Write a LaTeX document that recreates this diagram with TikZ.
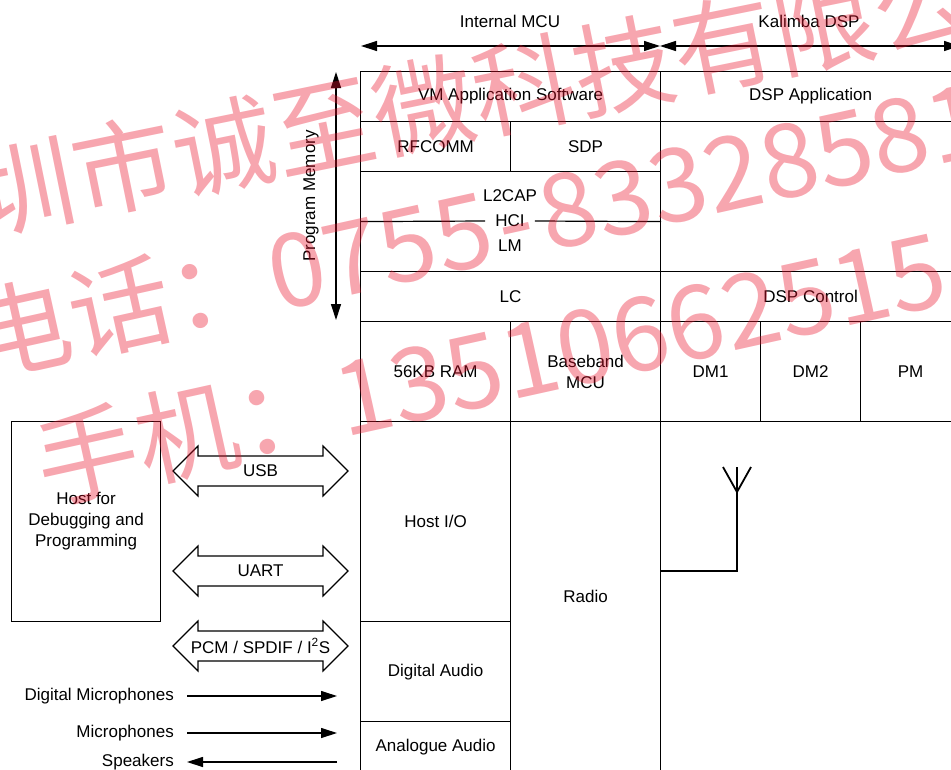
\documentclass[tikz,border=0pt]{standalone}
\usepackage{fontspec}
\setmainfont{Liberation Sans}
\newfontfamily\wmfont{Noto Sans CJK SC}
\usetikzlibrary{arrows.meta}
\newcommand\fs{\fontsize{17}{21}\selectfont}
\newcommand\wmdash{\makebox[0.5em]{-}}
\definecolor{wmred}{RGB}{235,20,45}
\tikzset{
  cell/.style={draw, line width=1.2pt, inner sep=0pt, anchor=north west, align=center, font=\fs},
  txt/.style={inner sep=0pt, align=center, font=\fs},
  arr/.style={line width=1.2pt, -{Triangle[length=16pt,width=10pt]}},
  darr/.style={line width=1.2pt, {Triangle[length=16pt,width=10pt]}-{Triangle[length=16pt,width=10pt]}},
  wm/.style={font=\wmfont\fontsize{102}{102}\selectfont, text=wmred, text opacity=0.38, inner sep=0pt, anchor=west},
  antline/.style={line width=1.8pt},
  bigdbl/.pic={\draw[line width=1.1pt, line join=miter] (-87.5,0) -- (-62.5,-25) -- (-62.5,-15) -- (62.5,-15) -- (62.5,-25) -- (87.5,0) -- (62.5,25) -- (62.5,15) -- (-62.5,15) -- (-62.5,25) -- cycle;}
}
\begin{document}
\begin{tikzpicture}[x=1pt,y=-1pt]
\useasboundingbox (0,0) rectangle (951,769);
\clip (0,0) rectangle (951,769);
% top labels and span arrows
\node[txt] (imcu) at (510,21) {Internal MCU};
\node[txt] (kal) at (809,21) {Kalimba DSP};
\coordinate (mcuL) at (361,46);
\coordinate (mid) at (660,46);
\coordinate (dspR) at (960,46);
\draw[darr] (mcuL) -- (mid);
\draw[darr] (mid) -- (dspR);
% program memory
\coordinate (pmTop) at (336,72);
\coordinate (pmBot) at (336,320);
\draw[darr] (pmTop) -- (pmBot);
\node[txt, rotate=90] (progmem) at (311,196) {Program Memory};
% grid
\node[cell, minimum width=300, minimum height=50] (vm) at (360,71) {VM Application Software};
\node[cell, minimum width=300, minimum height=50] (dspapp) at (660,71) {DSP Application};
\node[cell, minimum width=150, minimum height=50] (rfcomm) at (360,121) {RFCOMM};
\node[cell, minimum width=150, minimum height=50] (sdp) at (510,121) {SDP};
\node[cell, minimum width=300, minimum height=150] (dspfree) at (660,121) {};
\node[cell, minimum width=300, minimum height=100] (stack) at (360,171) {};
\node[txt] (l2cap) at (510,196) {L2CAP};
\node[txt, inner xsep=10pt] (hci) at (510,221) {HCI};
\node[txt] (lm) at (510,246) {LM};
\draw[line width=1.2pt] (stack.west) -- (hci.west);
\draw[line width=1.2pt] (hci.east) -- (stack.east);
\node[cell, minimum width=300, minimum height=50] (lc) at (360,271) {LC};
\node[cell, minimum width=300, minimum height=50] (dspctl) at (660,271) {DSP Control};
\node[cell, minimum width=150, minimum height=100] (ram) at (360,321) {56KB RAM};
\node[cell, minimum width=150, minimum height=100] (bb) at (510,321) {Baseband\\MCU};
\node[cell, minimum width=100, minimum height=100] (dm1) at (660,321) {DM1};
\node[cell, minimum width=100, minimum height=100] (dm2) at (760,321) {DM2};
\node[cell, minimum width=100, minimum height=100] (pm) at (860,321) {PM};
\node[cell, minimum width=150, minimum height=200] (hostio) at (360,421) {Host I/O};
\node[cell, minimum width=150, minimum height=100] (digaudio) at (360,621) {Digital Audio};
\node[cell, minimum width=150, minimum height=50] (anaudio) at (360,721) {Analogue Audio};
\node[cell, minimum width=150, minimum height=350] (radio) at (510,421) {Radio};
\node[cell, minimum width=300, minimum height=350] (rfarea) at (660,421) {};
% antenna
\coordinate (ant1) at (660,571);
\coordinate (ant2) at (737,571);
\coordinate (antTop) at (737,467);
\coordinate (antV) at (737,492);
\coordinate (antL) at (723,467);
\coordinate (antR) at (751,467);
\draw[antline] (ant1) -- (ant2) -- (antTop);
\draw[antline] (antL) -- (antV) -- (antR);
% host
\node[cell, minimum width=149, minimum height=200] (host) at (11,421) {Host for\\Debugging and\\Programming};
% interfaces
\pic at (260.5,471) {bigdbl};
\node[txt] (usb) at (260.5,471) {USB};
\pic at (260.5,571) {bigdbl};
\node[txt] (uart) at (260.5,571) {UART};
\pic at (260.5,646) {bigdbl};
\node[txt] (pcm) at (260.5,646) {PCM / SPDIF / I\textsuperscript{2}S};
% audio lines
\node[txt, anchor=east, inner xsep=13pt] (dmic) at (187,696) {Digital Microphones};
\node[txt, anchor=east, inner xsep=13pt] (mic) at (187,733) {Microphones};
\node[txt, anchor=east, inner xsep=13pt] (spk) at (187,762) {Speakers};
\coordinate (dmicEnd) at (337,696);
\coordinate (micEnd) at (337,733);
\coordinate (spkStart) at (337,762);
\draw[arr] (dmic.east) -- (dmicEnd);
\draw[arr] (mic.east) -- (micEnd);
\draw[arr] (spkStart) -- (spk.east);
% watermark
\node[wm, rotate=11.5] (wm1) at (-26,197) {圳市诚至微科技有限公};
\node[wm, rotate=12.5] (wm2) at (-30,340) {电话：0755\wmdash 83328581};
\node[wm, rotate=12.5] (wm3) at (37,466) {手机：13510662515};
\end{tikzpicture}
\end{document}
